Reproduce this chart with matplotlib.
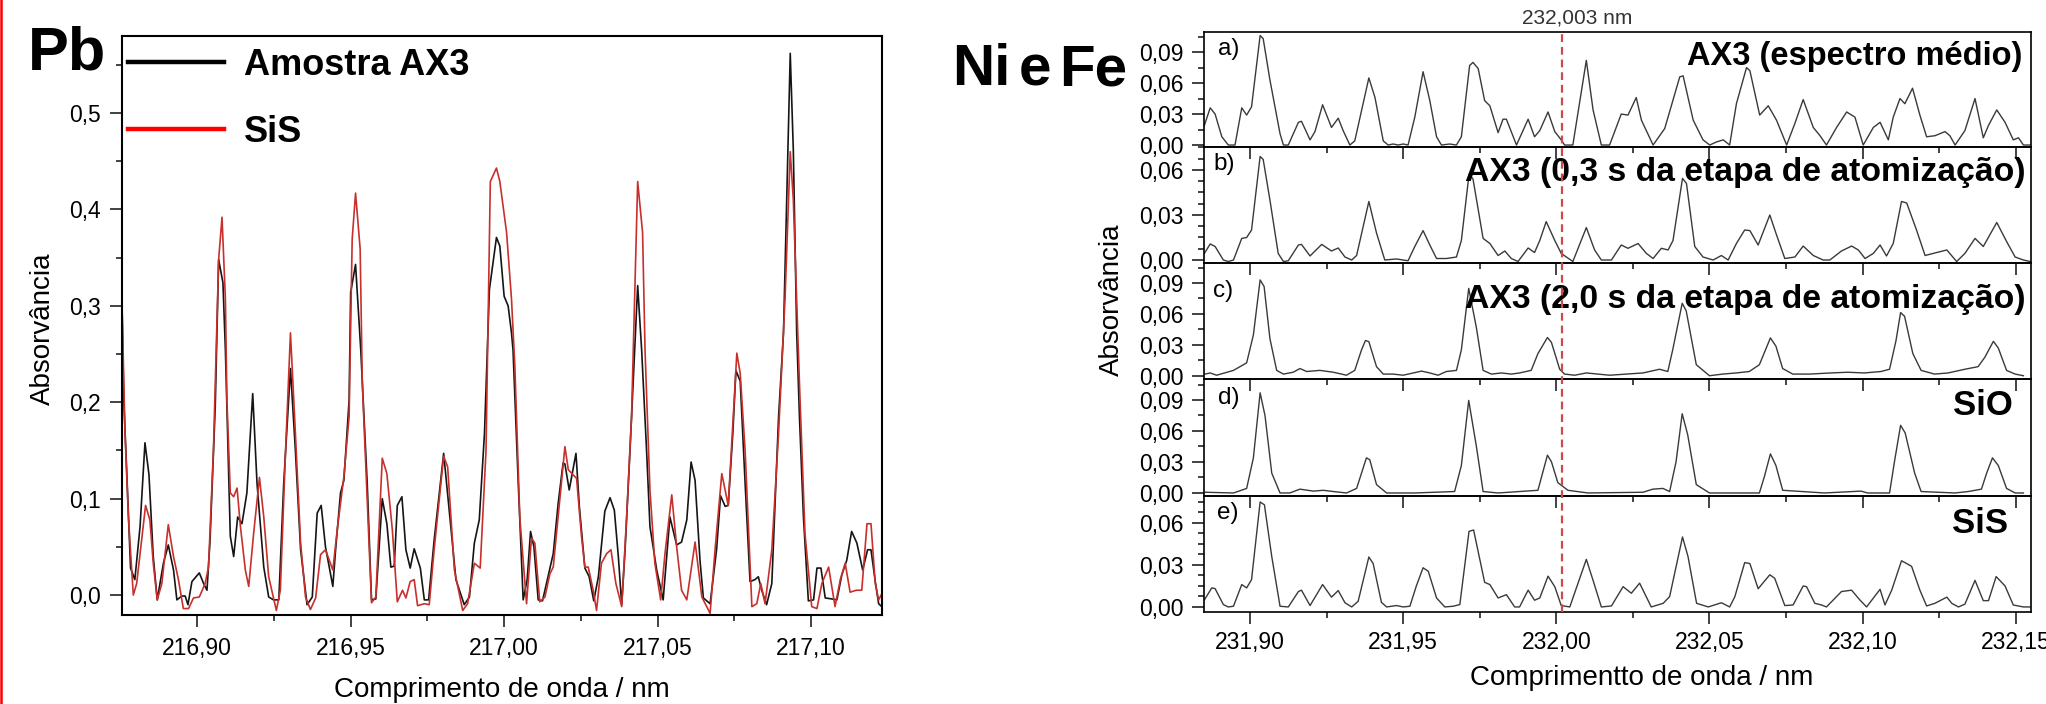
import numpy as np
import matplotlib
matplotlib.use('Agg')
import matplotlib.pyplot as plt
from matplotlib.lines import Line2D
from matplotlib.ticker import MultipleLocator, FuncFormatter
import matplotlib.transforms as mtransforms

plt.rcParams['font.family'] = ['Liberation Sans', 'DejaVu Sans']

# ---- Pb: (comprimento de onda / nm, absorvância) ----
pb_ax3 = [
    (216.8755, 0.305), (216.8761, 0.202), (216.8770, 0.133), (216.8783, 0.028), (216.8797, 0.016),
    (216.8814, 0.071), (216.8830, 0.158), (216.8843, 0.125), (216.8857, 0.040), (216.8870, -0.005),
    (216.8890, 0.033), (216.8906, 0.052), (216.8923, 0.026), (216.8934, -0.005), (216.8950, -0.001),
    (216.8961, -0.001), (216.8970, -0.010), (216.8983, 0.014), (216.9007, 0.023), (216.9021, 0.012),
    (216.9032, 0.005), (216.9042, 0.057), (216.9059, 0.196), (216.9070, 0.348), (216.9084, 0.324),
    (216.9092, 0.254), (216.9108, 0.061), (216.9119, 0.040), (216.9132, 0.081), (216.9146, 0.074),
    (216.9162, 0.106), (216.9181, 0.209), (216.9195, 0.116), (216.9217, 0.029), (216.9233, -0.002),
    (216.9249, -0.005), (216.9266, -0.005), (216.9282, 0.116), (216.9304, 0.235), (216.9320, 0.150),
    (216.9337, 0.047), (216.9358, -0.010), (216.9375, -0.002), (216.9391, 0.085), (216.9404, 0.093),
    (216.9418, 0.050), (216.9442, 0.009), (216.9451, 0.047), (216.9467, 0.106), (216.9478, 0.119),
    (216.9495, 0.202), (216.9500, 0.314), (216.9516, 0.343), (216.9533, 0.254), (216.9554, 0.116),
    (216.9568, -0.005), (216.9582, -0.004), (216.9603, 0.100), (216.9618, 0.074), (216.9631, 0.029),
    (216.9642, 0.030), (216.9652, 0.093), (216.9667, 0.102), (216.9680, 0.047), (216.9694, 0.028),
    (216.9707, 0.048), (216.9727, 0.028), (216.9740, -0.005), (216.9754, -0.005), (216.9772, 0.057),
    (216.9803, 0.147), (216.9821, 0.088), (216.9843, 0.016), (216.9870, -0.010), (216.9887, -0.002),
    (216.9903, 0.054), (216.9919, 0.078), (216.9936, 0.168), (216.9952, 0.317), (216.9975, 0.371),
    (216.9986, 0.362), (217.0000, 0.310), (217.0013, 0.300), (217.0024, 0.272), (217.0029, 0.254),
    (217.0046, 0.116), (217.0062, -0.005), (217.0075, 0.016), (217.0086, 0.066), (217.0097, 0.050),
    (217.0111, -0.005), (217.0125, -0.006), (217.0143, 0.019), (217.0160, 0.043), (217.0176, 0.095),
    (217.0192, 0.137), (217.0198, 0.136), (217.0212, 0.109), (217.0234, 0.147), (217.0245, 0.092),
    (217.0263, 0.028), (217.0277, 0.019), (217.0292, -0.006), (217.0307, 0.019), (217.0328, 0.087),
    (217.0345, 0.101), (217.0359, 0.088), (217.0372, 0.040), (217.0383, -0.010), (217.0394, 0.047),
    (217.0410, 0.150), (217.0435, 0.321), (217.0448, 0.254), (217.0464, 0.150), (217.0475, 0.071),
    (217.0497, 0.026), (217.0518, -0.005), (217.0540, 0.081), (217.0562, 0.052), (217.0578, 0.055),
    (217.0595, 0.078), (217.0609, 0.138), (217.0622, 0.119), (217.0638, 0.036), (217.0649, -0.003),
    (217.0671, -0.009), (217.0692, 0.047), (217.0705, 0.103), (217.0720, 0.092), (217.0730, 0.093),
    (217.0745, 0.168), (217.0755, 0.233), (217.0769, 0.222), (217.0785, 0.116), (217.0801, 0.014),
    (217.0817, 0.016), (217.0828, 0.019), (217.0839, 0.005), (217.0855, -0.010), (217.0872, 0.012),
    (217.0894, 0.185), (217.0910, 0.272), (217.0932, 0.562), (217.0942, 0.462), (217.0953, 0.272),
    (217.0962, 0.185), (217.0975, 0.081), (217.0991, -0.006), (217.1008, -0.005), (217.1019, 0.028),
    (217.1032, 0.028), (217.1046, -0.003), (217.1067, -0.004), (217.1084, -0.005), (217.1100, 0.021),
    (217.1116, 0.036), (217.1132, 0.066), (217.1149, 0.054), (217.1168, 0.026), (217.1184, 0.047),
    (217.1195, 0.047), (217.1209, 0.014), (217.1220, -0.009), (217.1230, -0.012),
]

pb_sis = [
    (216.8755, 0.305), (216.8765, 0.168), (216.8776, 0.081), (216.8792, 0.000), (216.8803, 0.012),
    (216.8819, 0.057), (216.8832, 0.093), (216.8846, 0.078), (216.8857, 0.033), (216.8870, -0.005),
    (216.8885, 0.012), (216.8906, 0.073), (216.8923, 0.040), (216.8939, 0.016), (216.8955, -0.014),
    (216.8972, -0.014), (216.8988, -0.003), (216.9007, -0.002), (216.9026, 0.012), (216.9037, 0.029),
    (216.9053, 0.150), (216.9070, 0.348), (216.9081, 0.392), (216.9092, 0.307), (216.9097, 0.202),
    (216.9108, 0.106), (216.9119, 0.102), (216.9130, 0.111), (216.9141, 0.071), (216.9157, 0.026),
    (216.9168, 0.009), (216.9184, 0.064), (216.9203, 0.122), (216.9217, 0.081), (216.9233, 0.019),
    (216.9258, -0.016), (216.9271, 0.005), (216.9288, 0.150), (216.9304, 0.272), (216.9320, 0.168),
    (216.9337, 0.054), (216.9353, -0.002), (216.9369, -0.015), (216.9386, -0.003), (216.9402, 0.042),
    (216.9418, 0.047), (216.9442, 0.026), (216.9456, 0.067), (216.9478, 0.123), (216.9495, 0.185),
    (216.9505, 0.369), (216.9516, 0.417), (216.9531, 0.359), (216.9538, 0.220), (216.9554, 0.099),
    (216.9568, -0.008), (216.9582, -0.002), (216.9603, 0.142), (216.9618, 0.126), (216.9636, 0.067),
    (216.9652, -0.007), (216.9669, 0.005), (216.9680, -0.003), (216.9694, 0.014), (216.9707, 0.016),
    (216.9718, -0.011), (216.9740, -0.009), (216.9756, -0.010), (216.9772, 0.047), (216.9803, 0.144),
    (216.9816, 0.133), (216.9838, 0.026), (216.9865, -0.016), (216.9881, -0.009), (216.9903, 0.033),
    (216.9922, 0.028), (216.9941, 0.150), (216.9955, 0.429), (216.9975, 0.443), (216.9986, 0.429),
    (217.0008, 0.376), (217.0024, 0.307), (217.0035, 0.237), (217.0051, 0.081), (217.0073, -0.009),
    (217.0089, 0.059), (217.0100, 0.054), (217.0116, -0.007), (217.0133, -0.002), (217.0149, 0.022),
    (217.0160, 0.029), (217.0182, 0.102), (217.0198, 0.154), (217.0209, 0.130), (217.0236, 0.121),
    (217.0252, 0.061), (217.0263, 0.029), (217.0274, 0.029), (217.0290, 0.005), (217.0301, -0.016),
    (217.0317, 0.033), (217.0334, 0.043), (217.0348, 0.047), (217.0364, 0.012), (217.0383, -0.012),
    (217.0399, 0.081), (217.0415, 0.185), (217.0435, 0.429), (217.0451, 0.376), (217.0459, 0.254),
    (217.0475, 0.109), (217.0491, 0.033), (217.0510, -0.005), (217.0524, 0.043), (217.0546, 0.104),
    (217.0562, 0.050), (217.0578, 0.005), (217.0595, -0.005), (217.0622, 0.055), (217.0644, -0.002),
    (217.0671, -0.019), (217.0687, 0.047), (217.0709, 0.126), (217.0730, 0.093), (217.0758, 0.251),
    (217.0769, 0.230), (217.0785, 0.150), (217.0807, -0.012), (217.0823, -0.009), (217.0836, 0.012),
    (217.0850, -0.009), (217.0872, 0.047), (217.0894, 0.168), (217.0915, 0.307), (217.0932, 0.460),
    (217.0942, 0.410), (217.0953, 0.307), (217.0962, 0.220), (217.0980, 0.064), (217.1002, -0.012),
    (217.1019, -0.014), (217.1035, 0.012), (217.1057, 0.029), (217.1078, -0.012), (217.1095, 0.016),
    (217.1111, 0.033), (217.1127, 0.003), (217.1147, 0.005), (217.1165, 0.005), (217.1182, 0.074),
    (217.1195, 0.074), (217.1209, 0.012), (217.1220, -0.005), (217.1233, 0.003),
]

# ---- Ni e Fe: espectros a) a e) ----
fe_a = [
    (231.8851, 0.019), (231.8870, 0.036), (231.8886, 0.030), (231.8908, 0.008), (231.8929, 0.000),
    (231.8951, 0.000), (231.8973, 0.036), (231.8989, 0.029), (231.9005, 0.037), (231.9033, 0.106),
    (231.9043, 0.103), (231.9065, 0.063), (231.9098, 0.011), (231.9109, 0.000), (231.9125, 0.000),
    (231.9158, 0.022), (231.9168, 0.023), (231.9196, 0.005), (231.9212, 0.013), (231.9237, 0.039),
    (231.9266, 0.017), (231.9288, 0.026), (231.9304, 0.014), (231.9326, 0.000), (231.9342, 0.004),
    (231.9388, 0.065), (231.9408, 0.046), (231.9435, 0.004), (231.9451, 0.000), (231.9467, 0.001),
    (231.9484, 0.000), (231.9500, 0.001), (231.9516, 0.000), (231.9538, 0.027), (231.9565, 0.071),
    (231.9587, 0.043), (231.9609, 0.008), (231.9625, 0.000), (231.9652, 0.001), (231.9674, 0.000),
    (231.9690, 0.008), (231.9717, 0.077), (231.9728, 0.080), (231.9745, 0.074), (231.9766, 0.043),
    (231.9783, 0.038), (231.9810, 0.012), (231.9826, 0.025), (231.9837, 0.025), (231.9870, 0.000),
    (231.9908, 0.025), (231.9929, 0.008), (231.9946, 0.014), (231.9973, 0.032), (231.9995, 0.013),
    (232.0016, 0.005), (232.0027, 0.000), (232.0054, 0.000), (232.0098, 0.082), (232.0120, 0.034),
    (232.0147, 0.000), (232.0174, 0.000), (232.0212, 0.030), (232.0234, 0.029), (232.0261, 0.046),
    (232.0278, 0.024), (232.0316, 0.000), (232.0354, 0.016), (232.0403, 0.066), (232.0414, 0.067),
    (232.0447, 0.024), (232.0479, 0.005), (232.0501, 0.000), (232.0523, 0.003), (232.0545, 0.005),
    (232.0566, 0.000), (232.0588, 0.040), (232.0621, 0.075), (232.0632, 0.072), (232.0664, 0.029),
    (232.0692, 0.038), (232.0719, 0.024), (232.0752, 0.000), (232.0779, 0.021), (232.0806, 0.044),
    (232.0839, 0.017), (232.0861, 0.009), (232.0882, 0.000), (232.0915, 0.017), (232.0948, 0.032),
    (232.0975, 0.027), (232.1002, 0.000), (232.1035, 0.017), (232.1057, 0.022), (232.1084, 0.005),
    (232.1100, 0.027), (232.1122, 0.045), (232.1138, 0.040), (232.1163, 0.055), (232.1187, 0.029),
    (232.1209, 0.008), (232.1236, 0.009), (232.1269, 0.013), (232.1285, 0.009), (232.1302, 0.000),
    (232.1334, 0.014), (232.1367, 0.045), (232.1394, 0.007), (232.1411, 0.019), (232.1438, 0.034),
    (232.1465, 0.022), (232.1492, 0.005), (232.1509, 0.007), (232.1525, 0.000), (232.1547, 0.000),
]

fe_b = [
    (231.8851, 0.0044), (231.8870, 0.0107), (231.8886, 0.0090), (231.8913, 0.0000), (231.8929, -0.0010),
    (231.8946, 0.0000), (231.8973, 0.0144), (231.8989, 0.0150), (231.9005, 0.0200), (231.9033, 0.0690),
    (231.9043, 0.0670), (231.9065, 0.0400), (231.9092, 0.0044), (231.9109, -0.0010), (231.9125, -0.0005),
    (231.9158, 0.0100), (231.9168, 0.0104), (231.9196, 0.0027), (231.9234, 0.0104), (231.9266, 0.0060),
    (231.9288, 0.0080), (231.9310, 0.0020), (231.9332, 0.0000), (231.9348, 0.0030), (231.9388, 0.0390),
    (231.9413, 0.0180), (231.9440, 0.0000), (231.9478, 0.0007), (231.9516, -0.0005), (231.9538, 0.0090),
    (231.9565, 0.0196), (231.9587, 0.0100), (231.9609, 0.0010), (231.9641, 0.0010), (231.9674, 0.0020),
    (231.9690, 0.0130), (231.9715, 0.0570), (231.9728, 0.0540), (231.9761, 0.0144), (231.9783, 0.0110),
    (231.9810, 0.0030), (231.9832, 0.0060), (231.9853, 0.0010), (231.9875, -0.0010), (231.9908, 0.0080),
    (231.9929, 0.0050), (231.9946, 0.0130), (231.9967, 0.0256), (231.9995, 0.0130), (232.0016, 0.0044),
    (232.0054, -0.0010), (232.0098, 0.0216), (232.0125, 0.0067), (232.0147, 0.0000), (232.0180, 0.0000),
    (232.0212, 0.0100), (232.0234, 0.0078), (232.0267, 0.0110), (232.0294, 0.0044), (232.0316, 0.0010),
    (232.0343, 0.0078), (232.0365, 0.0067), (232.0381, 0.0130), (232.0412, 0.0544), (232.0425, 0.0510),
    (232.0452, 0.0090), (232.0479, 0.0020), (232.0512, 0.0000), (232.0539, 0.0030), (232.0561, 0.0000),
    (232.0588, 0.0110), (232.0615, 0.0200), (232.0632, 0.0196), (232.0659, 0.0100), (232.0697, 0.0300),
    (232.0719, 0.0167), (232.0746, 0.0010), (232.0779, 0.0020), (232.0806, 0.0093), (232.0839, 0.0030),
    (232.0871, 0.0000), (232.0893, 0.0000), (232.0931, 0.0060), (232.0964, 0.0093), (232.0986, 0.0067),
    (232.1008, 0.0010), (232.1035, 0.0044), (232.1057, 0.0100), (232.1078, 0.0027), (232.1100, 0.0110),
    (232.1127, 0.0390), (232.1144, 0.0380), (232.1176, 0.0200), (232.1204, 0.0030), (232.1242, 0.0050),
    (232.1275, 0.0067), (232.1307, -0.0010), (232.1334, 0.0044), (232.1367, 0.0144), (232.1394, 0.0090),
    (232.1438, 0.0250), (232.1471, 0.0120), (232.1498, 0.0020), (232.1525, 0.0000), (232.1547, -0.0010),
]

fe_c = [
    (231.8853, 0.0016), (231.8870, 0.0027), (231.8891, 0.0005), (231.8946, 0.0052), (231.8989, 0.0125),
    (231.9011, 0.0396), (231.9033, 0.0930), (231.9046, 0.0866), (231.9065, 0.0360), (231.9087, 0.0052),
    (231.9109, 0.0016), (231.9141, 0.0034), (231.9163, 0.0070), (231.9185, 0.0041), (231.9228, 0.0052),
    (231.9272, 0.0034), (231.9315, 0.0005), (231.9342, 0.0052), (231.9364, 0.0251), (231.9377, 0.0342),
    (231.9388, 0.0331), (231.9413, 0.0088), (231.9435, 0.0016), (231.9467, 0.0016), (231.9500, 0.0005),
    (231.9560, 0.0045), (231.9587, 0.0027), (231.9614, 0.0005), (231.9641, 0.0041), (231.9674, 0.0052),
    (231.9690, 0.0251), (231.9714, 0.0848), (231.9739, 0.0468), (231.9761, 0.0052), (231.9788, 0.0016),
    (231.9821, 0.0027), (231.9853, 0.0016), (231.9880, 0.0027), (231.9918, 0.0052), (231.9940, 0.0215),
    (231.9971, 0.0371), (231.9984, 0.0324), (232.0011, 0.0063), (232.0027, 0.0016), (232.0060, 0.0005),
    (232.0098, 0.0027), (232.0136, 0.0016), (232.0174, 0.0005), (232.0228, 0.0016), (232.0283, 0.0027),
    (232.0337, 0.0063), (232.0364, 0.0041), (232.0380, 0.0251), (232.0411, 0.0703), (232.0424, 0.0631),
    (232.0457, 0.0107), (232.0500, 0.0000), (232.0543, 0.0016), (232.0587, 0.0027), (232.0630, 0.0041),
    (232.0663, 0.0107), (232.0699, 0.0367), (232.0717, 0.0287), (232.0739, 0.0070), (232.0772, 0.0016),
    (232.0826, 0.0016), (232.0896, 0.0027), (232.0951, 0.0034), (232.1005, 0.0027), (232.1060, 0.0041),
    (232.1088, 0.0063), (232.1109, 0.0340), (232.1124, 0.0613), (232.1137, 0.0577), (232.1164, 0.0215),
    (232.1191, 0.0052), (232.1235, 0.0016), (232.1279, 0.0027), (232.1334, 0.0063), (232.1377, 0.0088),
    (232.1399, 0.0179), (232.1427, 0.0334), (232.1443, 0.0269), (232.1470, 0.0052), (232.1498, 0.0016),
    (232.1525, 0.0000),
]

fe_d = [
    (231.8853, 0.0007), (231.8946, 0.0000), (231.8989, 0.0044), (231.9011, 0.0340), (231.9033, 0.0970),
    (231.9049, 0.0748), (231.9071, 0.0192), (231.9098, 0.0000), (231.9130, 0.0000), (231.9163, 0.0037),
    (231.9207, 0.0018), (231.9239, 0.0026), (231.9272, 0.0014), (231.9315, 0.0000), (231.9348, 0.0044),
    (231.9380, 0.0340), (231.9391, 0.0322), (231.9413, 0.0081), (231.9446, 0.0000), (231.9538, 0.0000),
    (231.9668, 0.0014), (231.9690, 0.0266), (231.9714, 0.0896), (231.9739, 0.0452), (231.9761, 0.0014),
    (231.9810, 0.0000), (231.9940, 0.0026), (231.9971, 0.0366), (231.9984, 0.0303), (232.0005, 0.0100),
    (232.0038, 0.0026), (232.0103, 0.0000), (232.0283, 0.0007), (232.0315, 0.0037), (232.0348, 0.0044),
    (232.0370, 0.0014), (232.0391, 0.0303), (232.0411, 0.0767), (232.0429, 0.0563), (232.0457, 0.0081),
    (232.0500, 0.0000), (232.0663, 0.0000), (232.0679, 0.0155), (232.0699, 0.0378), (232.0717, 0.0266),
    (232.0739, 0.0026), (232.0875, 0.0000), (232.0995, 0.0018), (232.1016, 0.0000), (232.1088, 0.0000),
    (232.1104, 0.0303), (232.1124, 0.0655), (232.1139, 0.0581), (232.1170, 0.0192), (232.1191, 0.0014),
    (232.1301, 0.0000), (232.1345, 0.0014), (232.1388, 0.0037), (232.1405, 0.0192), (232.1424, 0.0340),
    (232.1443, 0.0266), (232.1470, 0.0044), (232.1498, 0.0000), (232.1525, 0.0000),
]

fe_e = [
    (231.8851, 0.0050), (231.8875, 0.0136), (231.8886, 0.0131), (231.8913, 0.0017), (231.8929, 0.0000),
    (231.8946, 0.0005), (231.8973, 0.0160), (231.8989, 0.0136), (231.9005, 0.0195), (231.9033, 0.0750),
    (231.9047, 0.0730), (231.9071, 0.0360), (231.9098, 0.0005), (231.9125, 0.0000), (231.9158, 0.0110),
    (231.9168, 0.0120), (231.9196, 0.0010), (231.9237, 0.0160), (231.9266, 0.0070), (231.9288, 0.0117),
    (231.9310, 0.0030), (231.9332, 0.0000), (231.9353, 0.0040), (231.9388, 0.0357), (231.9402, 0.0310),
    (231.9429, 0.0033), (231.9446, 0.0000), (231.9478, 0.0010), (231.9500, 0.0000), (231.9522, 0.0005),
    (231.9543, 0.0150), (231.9565, 0.0280), (231.9582, 0.0255), (231.9609, 0.0064), (231.9636, 0.0000),
    (231.9663, 0.0005), (231.9685, 0.0017), (231.9715, 0.0540), (231.9730, 0.0550), (231.9766, 0.0176),
    (231.9783, 0.0160), (231.9810, 0.0064), (231.9837, 0.0088), (231.9864, 0.0000), (231.9880, 0.0000),
    (231.9908, 0.0120), (231.9929, 0.0048), (231.9946, 0.0064), (231.9973, 0.0220), (231.9995, 0.0145),
    (232.0016, 0.0010), (232.0044, 0.0000), (232.0098, 0.0340), (232.0120, 0.0190), (232.0147, 0.0000),
    (232.0180, 0.0007), (232.0218, 0.0145), (232.0245, 0.0098), (232.0272, 0.0170), (232.0310, 0.0000),
    (232.0349, 0.0026), (232.0370, 0.0074), (232.0412, 0.0500), (232.0430, 0.0360), (232.0458, 0.0026),
    (232.0496, 0.0000), (232.0539, 0.0030), (232.0566, 0.0000), (232.0583, 0.0074), (232.0615, 0.0317),
    (232.0632, 0.0310), (232.0659, 0.0130), (232.0697, 0.0230), (232.0713, 0.0205), (232.0746, 0.0010),
    (232.0773, 0.0014), (232.0806, 0.0150), (232.0817, 0.0145), (232.0844, 0.0026), (232.0866, 0.0014),
    (232.0882, 0.0000), (232.0931, 0.0110), (232.0964, 0.0120), (232.0991, 0.0050), (232.1013, 0.0000),
    (232.1057, 0.0126), (232.1073, 0.0014), (232.1095, 0.0120), (232.1127, 0.0330), (232.1144, 0.0310),
    (232.1160, 0.0290), (232.1187, 0.0120), (232.1209, 0.0007), (232.1236, 0.0026), (232.1275, 0.0070),
    (232.1291, 0.0026), (232.1313, 0.0000), (232.1334, 0.0020), (232.1367, 0.0190), (232.1394, 0.0045),
    (232.1411, 0.0045), (232.1436, 0.0217), (232.1465, 0.0150), (232.1492, 0.0014), (232.1525, 0.0000),
    (232.1547, 0.0000),
]

fe_series = [fe_a, fe_b, fe_c, fe_d, fe_e]
fe_letras = ['a)', 'b)', 'c)', 'd)', 'e)']
fe_rotulos = ['AX3 (espectro médio)', 'AX3 (0,3 s da etapa de atomização)',
              'AX3 (2,0 s da etapa de atomização)', 'SiO', 'SiS']
linha_ref = 232.002
linha_ref_txt = '232,003 nm'


def virgula(fmt):
    return FuncFormatter(lambda v, pos: format(v, fmt).replace('.', ','))


fig = plt.figure(figsize=(20.46, 7.04), dpi=100)

# ---------------- painel Pb ----------------
ax = fig.add_axes([0.0596, 0.1264, 0.3715, 0.8225])
x, y = np.array(pb_ax3).T
ax.plot(x, y, color='#151515', lw=1.2)
x, y = np.array(pb_sis).T
ax.plot(x, y, color='#c8302c', lw=1.2)
ax.set_xlim(216.8755, 217.1231)
ax.set_ylim(-0.0207, 0.58)
ax.xaxis.set_major_locator(MultipleLocator(0.05))
ax.xaxis.set_minor_locator(MultipleLocator(0.025))
ax.yaxis.set_major_locator(MultipleLocator(0.1))
ax.yaxis.set_minor_locator(MultipleLocator(0.05))
ax.xaxis.set_major_formatter(virgula('.2f'))
ax.yaxis.set_major_formatter(virgula('.1f'))
ax.tick_params(which='both', direction='out', width=1.2, labelsize=16.5, color='#222222')
ax.tick_params(which='major', length=8.5, pad=7)
ax.tick_params(which='minor', length=4.5)
for s in ax.spines.values():
    s.set_linewidth(1.5)
leg = ax.legend(handles=[Line2D([], [], color='black', lw=3.2), Line2D([], [], color='red', lw=3.2)],
                labels=['Amostra AX3', 'SiS'], loc='upper left', bbox_to_anchor=(0.008, 0.98),
                frameon=False, prop={'weight': 'bold', 'size': 26}, handlelength=2.65,
                handletextpad=0.55, labelspacing=0.9, borderpad=0, borderaxespad=0)

fig.text(0.0137, 0.9006, 'Pb', fontsize=44, fontweight='bold', va='baseline')
fig.text(502 / 2046, 1 - 697 / 704, 'Comprimento de onda / nm', fontsize=20, ha='center', va='baseline')
fig.text(43 / 2046, 1 - 329 / 704, 'Absorvância', fontsize=20, rotation=90, ha='center', va='center')

# ---------------- painéis Ni e Fe ----------------
limites = [0.9545, 0.7912, 0.6264, 0.4616, 0.2955, 0.1307]
ylims = [(-0.0019, 0.1094), (-0.002, 0.0753), (-0.0032, 0.1094), (-0.0029, 0.1103), (-0.0036, 0.0793)]
menores = [0.015, 0.0075, 0.015, 0.015, 0.0075]
pos_rot = [(0.989, 0.713, 23.5), (0.993, 0.707, 24.3), (0.993, 0.612, 24.3), (0.978, 0.692, 25), (0.972, 0.681, 25)]
pos_let = [(0.017, 0.852), (0.011, 0.853), (0.011, 0.759), (0.017, 0.838), (0.016, 0.853)]

axs = []
for i, serie in enumerate(fe_series):
    top, bot = limites[i], limites[i + 1]
    a = fig.add_axes([0.5885, bot, 0.4042, top - bot])
    a.patch.set_visible(False)
    x, y = np.array(serie).T
    a.plot(x, y, color='#3a3a3a', lw=1.0)
    a.set_xlim(231.885, 232.155)
    a.set_ylim(*ylims[i])
    a.xaxis.set_major_locator(MultipleLocator(0.05))
    a.xaxis.set_minor_locator(MultipleLocator(0.025))
    a.yaxis.set_major_locator(MultipleLocator(0.03))
    a.yaxis.set_minor_locator(MultipleLocator(menores[i]))
    a.xaxis.set_major_formatter(virgula('.2f'))
    a.yaxis.set_major_formatter(virgula('.2f'))
    a.tick_params(which='both', direction='out', width=1.2, labelsize=16.5, color='#222222')
    a.tick_params(which='major', length=8.5, pad=5)
    a.tick_params(which='minor', length=4.5)
    a.tick_params(axis='y', pad=6)
    if i < 4:
        a.tick_params(axis='x', labelbottom=False)
    for s in a.spines.values():
        s.set_linewidth(1.2)
    px, py, fs = pos_rot[i]
    a.text(px, py, fe_rotulos[i], transform=a.transAxes, ha='right', va='baseline',
           fontsize=fs, fontweight='bold')
    lx, ly = pos_let[i]
    a.text(lx, ly, fe_letras[i], transform=a.transAxes, ha='left', va='center', fontsize=17.5)
    axs.append(a)

trans = mtransforms.blended_transform_factory(axs[-1].transData, fig.transFigure)
fig.add_artist(Line2D([linha_ref, linha_ref], [limites[-1], limites[0]], transform=trans,
                      color='#cc4a4a', lw=1.6, linestyle=(0, (3.5, 2.2))))
fig.text(1577 / 2046, 1 - 18 / 704, linha_ref_txt, fontsize=15, ha='center', va='center', color='#333333')

# título "Ni e Fe" (espaços um pouco mais estreitos que o normal)
fig.text(1127 / 2046, 1 - 85 / 704, 'Fe', fontsize=42, fontweight='bold', ha='right', va='baseline')
fig.text(1051 / 2046, 1 - 85 / 704, 'e', fontsize=42, fontweight='bold', ha='right', va='baseline')
fig.text(1011 / 2046, 1 - 85 / 704, 'Ni', fontsize=42, fontweight='bold', ha='right', va='baseline')
fig.text(1642 / 2046, 1 - 685 / 704, 'Comprimentto de onda / nm', fontsize=20, ha='center', va='baseline')
fig.text(1112 / 2046, 1 - 300 / 704, 'Absorvância', fontsize=20, rotation=90, ha='center', va='center')

# borda vermelha à esquerda
fig.add_artist(Line2D([0.0006, 0.0006], [0, 1], transform=fig.transFigure, color='red', lw=1.8))

fig.savefig('out.png', dpi=100)
